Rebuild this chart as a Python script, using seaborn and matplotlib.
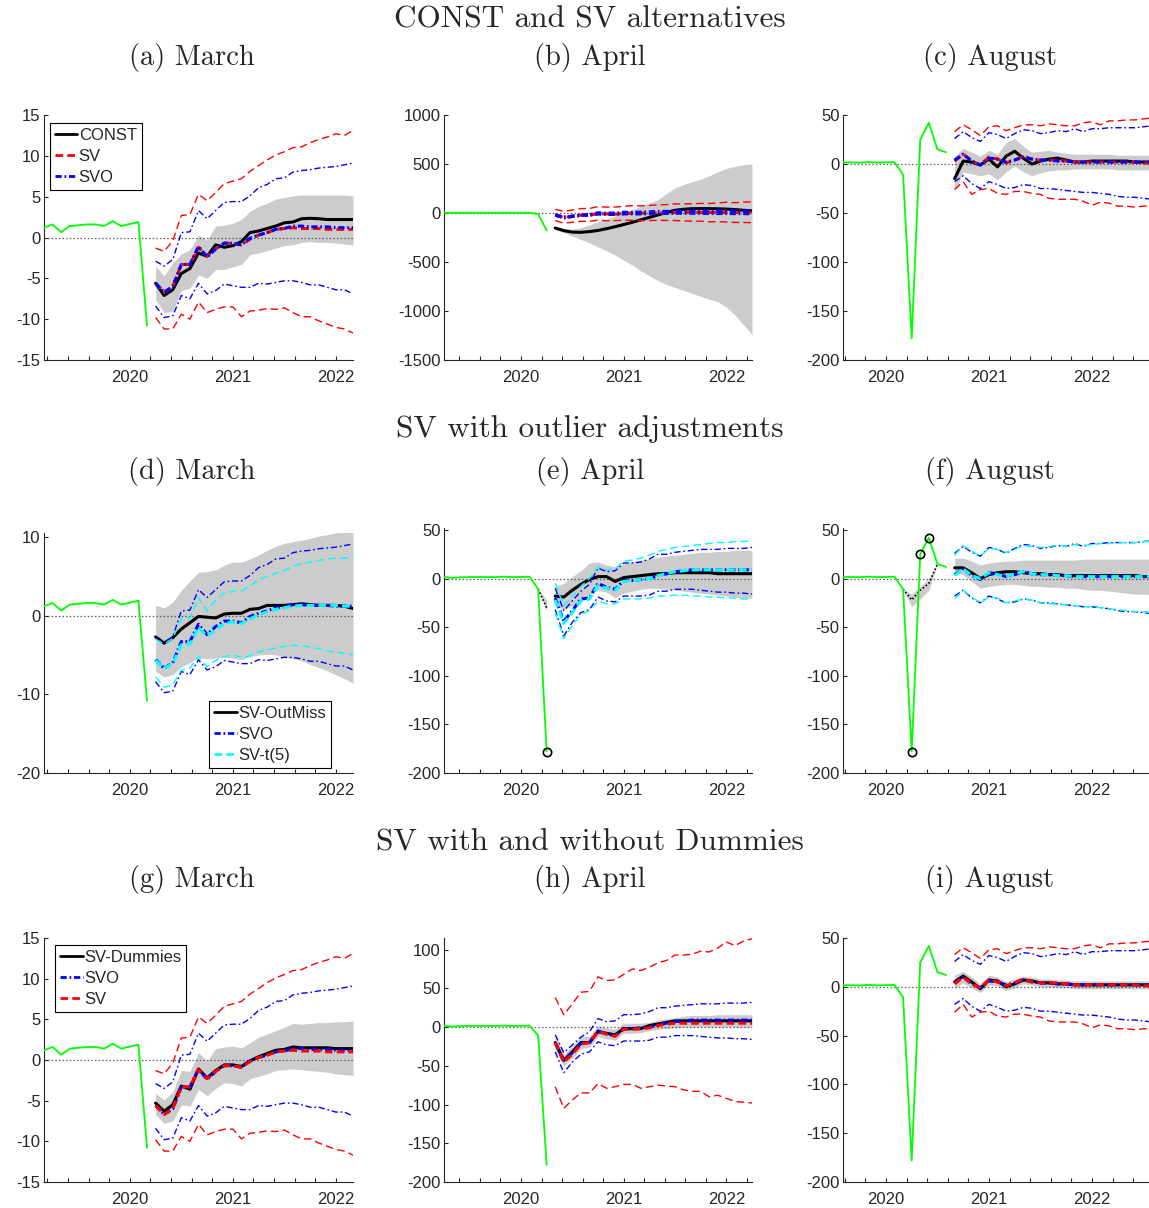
import matplotlib
matplotlib.use("Agg")
import matplotlib.pyplot as plt
import matplotlib.ticker as mticker
from matplotlib.lines import Line2D
import seaborn as sns

# --- data -----------------------------------------------------------------
# observed series, Mar 2019 .. Aug 2020 (monthly)
ACTUAL_START = (2019, 3)
ACTUAL = [1.2, 1.6, 0.65, 1.4, 1.5, 1.6, 1.6, 1.4, 2.0, 1.4, 1.65, 1.9,
          -10.8, -178, 25, 42, 15, 12]

# forecast vintages: last observed month
VINTAGES = {"March": (2020, 3), "April": (2020, 4), "August": (2020, 8)}

# --- March vintage, forecasts Apr 2020 .. Mar 2022
CONST_MAR_MED = [-5.6, -7.1, -6.4, -4.4, -3.8, -1.9, -2.3, -0.9, -1.2, -1.0, -0.5, 0.6,
                 0.8, 1.1, 1.4, 1.8, 1.9, 2.3, 2.35, 2.3, 2.2, 2.2, 2.2, 2.2]
CONST_MAR_LO = [-7.6, -9.2, -9.0, -6.5, -6.2, -4.6, -5.0, -3.9, -3.9, -3.6, -3.3, -2.1,
                -1.9, -1.6, -1.3, -1.0, -0.9, -0.6, -0.5, -0.6, -0.6, -0.7, -0.8, -0.9]
CONST_MAR_HI = [-3.5, -4.7, -3.1, -2.0, -1.5, 0.3, -0.3, 1.4, 1.5, 1.75, 2.2, 3.2,
                3.8, 4.2, 4.7, 4.9, 5.1, 5.2, 5.2, 5.2, 5.2, 5.2, 5.2, 5.1]
SV_MAR_MED = [-5.6, -6.7, -6.0, -3.3, -3.3, -1.2, -2.3, -1.4, -0.7, -0.7, -0.9, -0.2,
              0.3, 0.6, 1.0, 1.1, 1.2, 1.1, 1.1, 1.1, 1.0, 1.0, 1.0, 1.0]
SV_MAR_LO = [-9.8, -11.2, -11.2, -9.4, -10.0, -7.9, -9.2, -8.8, -8.5, -8.5, -9.7, -9.0,
             -8.9, -8.7, -8.8, -8.6, -9.2, -9.7, -9.7, -10.2, -10.6, -11.0, -11.2, -11.7]
SV_MAR_HI = [-1.3, -1.7, -0.4, 2.7, 2.8, 5.3, 4.5, 5.5, 6.6, 6.9, 7.2, 8.1,
             8.8, 9.5, 10.1, 10.5, 11.0, 11.1, 11.6, 12.0, 12.3, 12.7, 12.5, 13.1]
SVO_MAR_MED = [-5.6, -6.7, -6.0, -3.3, -3.3, -1.1, -2.4, -1.4, -0.7, -0.7, -0.9, -0.1,
               0.3, 0.6, 1.0, 1.1, 1.4, 1.4, 1.3, 1.3, 1.3, 1.2, 1.2, 1.2]
SVO_MAR_LO = [-8.4, -9.8, -9.6, -7.1, -7.5, -5.6, -6.9, -6.5, -5.7, -5.9, -6.1, -6.1,
              -5.6, -5.7, -5.5, -5.3, -5.3, -5.5, -5.8, -5.8, -6.1, -6.4, -6.4, -6.9]
SVO_MAR_HI = [-2.9, -3.5, -2.7, 0.6, 0.7, 3.3, 2.3, 3.3, 4.3, 4.4, 4.4, 5.1,
              6.1, 6.5, 7.2, 7.3, 8.0, 8.2, 8.3, 8.5, 8.6, 8.7, 8.9, 9.1]
OUTMISS_MAR_MED = [-2.7, -3.5, -2.8, -1.7, -0.9, -0.1, -0.2, -0.3, 0.2, 0.3, 0.3, 0.8,
                   0.9, 1.3, 1.3, 1.3, 1.4, 1.5, 1.4, 1.3, 1.3, 1.3, 1.2, 0.9]
OUTMISS_MAR_LO = [-7.1, -7.8, -7.5, -6.5, -6.0, -5.3, -5.5, -5.4, -5.3, -5.4, -5.6, -5.2,
                  -5.0, -4.9, -5.0, -5.3, -5.5, -5.7, -6.2, -6.6, -7.0, -7.5, -8.0, -8.6]
OUTMISS_MAR_HI = [1.3, 1.0, 1.7, 3.2, 4.4, 5.5, 5.6, 5.8, 6.4, 6.8, 6.8, 7.2,
                  7.7, 8.3, 8.8, 9.2, 9.4, 9.6, 9.8, 10.1, 10.3, 10.5, 10.8, 11.0]
T5_MAR_MED = [-5.7, -6.7, -6.1, -3.7, -3.6, -1.5, -2.6, -1.8, -1.0, -0.8, -1.0, -0.4,
              0.1, 0.5, 0.8, 1.0, 1.2, 1.3, 1.3, 1.3, 1.3, 1.3, 1.2, 1.2]
T5_MAR_LO = [-7.8, -9.1, -8.8, -6.9, -6.7, -5.2, -6.5, -5.7, -5.2, -5.0, -5.3, -5.1,
             -4.6, -4.4, -4.1, -3.9, -3.8, -3.8, -4.0, -4.2, -4.5, -4.6, -4.8, -5.0]
T5_MAR_HI = [-3.0, -3.6, -2.9, -0.4, -0.3, 2.3, 0.6, 2.0, 2.9, 3.1, 3.1, 3.8,
             4.5, 5.0, 5.4, 5.7, 6.3, 6.6, 6.8, 7.0, 7.2, 7.3, 7.3, 7.4]
DUMMY_MAR_MED = [-5.3, -6.3, -5.5, -3.2, -3.6, -1.1, -2.2, -1.3, -0.6, -0.6, -0.8, -0.1,
                 0.4, 0.8, 1.2, 1.3, 1.6, 1.5, 1.5, 1.5, 1.5, 1.4, 1.4, 1.4]
DUMMY_MAR_LO = [-6.7, -7.8, -7.5, -5.5, -5.7, -3.6, -4.4, -3.5, -2.8, -2.9, -3.2, -2.3,
                -2.0, -1.7, -1.3, -1.2, -1.1, -1.2, -1.3, -1.4, -1.5, -1.7, -1.8, -1.9]
DUMMY_MAR_HI = [-4.1, -4.9, -3.9, -1.3, -1.4, 0.9, -0.1, 1.4, 1.6, 1.7, 1.5, 2.1,
                2.8, 3.2, 3.6, 4.0, 4.5, 4.4, 4.5, 4.6, 4.6, 4.7, 4.7, 4.8]

# --- April vintage, forecasts May 2020 .. Apr 2022
CONST_APR_MED = [-153, -180, -195, -197, -190, -178, -160, -140, -118, -95, -70, -45,
                 -20, 5, 28, 38, 44, 45, 45, 43, 40, 35, 28, 22]
CONST_APR_LO = [-170, -200, -235, -270, -305, -345, -385, -430, -480, -530, -590, -640,
                -690, -730, -760, -790, -820, -850, -880, -905, -960, -1040, -1140, -1240]
CONST_APR_HI = [-140, -160, -165, -150, -120, -90, -60, -30, 0, 34, 70, 100,
                136, 200, 255, 290, 320, 345, 380, 420, 455, 475, 492, 500]
SV_APR_MED = [-20, -45, -35, -22, -20, -6, -9, -12, -3, -3, -2, -1,
              2, 4, 5, 5, 5, 5, 5, 5, 5, 5, 5, 5]
SV_APR_LO = [-77, -105, -94, -85, -85, -73, -79, -77, -74, -74, -79, -77,
             -75, -76, -77, -81, -83, -83, -90, -88, -92, -96, -97, -98]
SV_APR_HI = [38, 16, 30, 45, 46, 65, 60, 61, 68, 75, 73, 77,
             83, 86, 93, 93, 94, 98, 97, 102, 110, 105, 111, 114]
SVO_APR_MED = [-20, -44, -33, -21, -20, -5, -9, -11, -2, -2, -1, 0,
               3, 5, 7, 8, 9, 9, 9, 9, 9, 9, 9, 9]
SVO_APR_LO = [-32, -59, -45, -35, -32, -19, -23, -24, -18, -18, -18, -17,
              -13, -13, -11, -11, -11, -12, -13, -14, -14, -15, -15, -16]
SVO_APR_HI = [-10, -33, -23, -13, -6, 11, 7, 8, 16, 16, 17, 20,
              25, 25, 27, 28, 29, 30, 30, 30, 31, 31, 31, 32]
OUTMISS_APR_MED = [-18, -19, -12, -6, -1, 2, 2, -3, 1, 2, 3, 4,
                   5, 5, 6, 6, 6, 6, 6, 5, 5, 5, 5, 5]
OUTMISS_APR_LO = [-27, -32, -28, -22, -16, -12, -14, -20, -15, -13, -11, -10,
                  -10, -11, -12, -13, -14, -15, -16, -17, -18, -19, -20, -20]
OUTMISS_APR_HI = [-8, -5, 2, 8, 16, 17, 14, 12, 15, 17, 19, 20,
                  22, 23, 24, 25, 26, 27, 27, 28, 28, 29, 29, 29]
T5_APR_MED = [-22, -46, -35, -23, -21, -7, -10, -12, -3, -2, -1, 0,
              3, 5, 7, 8, 9, 9, 9, 9, 9, 9, 9, 9]
T5_APR_LO = [-35, -62, -48, -37, -33, -23, -26, -26, -21, -21, -21, -20,
             -18, -18, -17, -17, -18, -18, -19, -19, -20, -20, -21, -21]
T5_APR_HI = [-5, -28, -18, -8, 0, 12, 9, 10, 18, 19, 21, 24,
             28, 30, 32, 33, 34, 35, 36, 37, 37, 38, 38, 39]
DUMMY_APR_MED = [-20, -43, -32, -20, -20, -6, -8, -10, -2, -2, -2, 2,
                 4, 6, 8, 8, 8, 8, 8, 8, 8, 8, 8, 8]
DUMMY_APR_LO = [-30, -50, -40, -28, -26, -12, -15, -17, -8, -8, -7, -5,
                -3, -2, -1, 0, 0, 0, 0, 0, 0, 0, 0, 0]
DUMMY_APR_HI = [-10, -35, -24, -12, -12, 2, -1, -3, 5, 5, 5, 6,
                9, 11, 12, 14, 15, 15, 15, 16, 16, 16, 16, 16]

# --- August vintage, forecasts Sep 2020 .. Aug 2022
CONST_AUG_MED = [-15, 3, 2, -1, 5, -3, 8, 13, 6, 0, 3, 5,
                 6, 4, 2, 2, 3, 3, 3, 3, 3, 2, 2, 2]
CONST_AUG_LO = [-28, -8, -10, -12, -10, -16, -8, -2, -8, -12, -9, -7,
                -6, -6, -5, -5, -5, -5, -5, -6, -6, -6, -6, -6]
CONST_AUG_HI = [8, 16, 12, 8, 14, 10, 22, 26, 18, 12, 13, 14,
                12, 11, 10, 10, 10, 10, 10, 9, 9, 9, 9, 9]
SV_AUG_MED = [3, 10, 3, -1, 7, 5, 1, 4, 8, 5, 4, 4,
              4, 3, 2, 2, 2, 2, 2, 2, 2, 2, 1, 1]
SV_AUG_LO = [-26, -18, -31, -26, -25, -30, -31, -28, -28, -30, -31, -35,
             -36, -36, -36, -38, -42, -39, -40, -43, -43, -44, -43, -43]
SV_AUG_HI = [33, 40, 35, 29, 38, 39, 34, 37, 40, 40, 39, 41,
             40, 39, 39, 42, 43, 40, 44, 44, 45, 45, 46, 47]
SVO_AUG_MED = [4, 10, 3, -1, 6, 5, 2, 4, 7, 5, 4, 4,
               3, 3, 2, 2, 2, 2, 2, 2, 2, 2, 2, 2]
SVO_AUG_LO = [-18, -12, -20, -25, -18, -21, -25, -24, -21, -22, -25, -25,
              -26, -27, -28, -29, -29, -30, -31, -33, -34, -34, -35, -36]
SVO_AUG_HI = [26, 33, 27, 23, 32, 30, 26, 31, 35, 34, 31, 32,
              34, 33, 36, 33, 36, 36, 37, 37, 37, 37, 38, 39]
OUTMISS_AUG_MED = [11, 11, 6, 0, 4, 6, 7, 7, 6, 5, 5, 4,
                   4, 3, 3, 3, 3, 3, 3, 3, 3, 3, 2, 2]
OUTMISS_AUG_LO = [7, 4, -3, -10, -8, -7, -6, -6, -7, -8, -8, -9,
                  -9, -10, -10, -11, -12, -12, -13, -14, -15, -16, -16, -17]
OUTMISS_AUG_HI = [21, 21, 18, 14, 16, 17, 18, 18, 19, 19, 19, 19,
                  19, 19, 19, 20, 20, 20, 20, 20, 20, 20, 20, 20]
T5_AUG_MED = [3, 10, 3, 0, 6, 4, 2, 5, 7, 5, 4, 4,
              3, 3, 2, 2, 2, 2, 2, 2, 2, 2, 2, 2]
T5_AUG_LO = [-21, -12, -19, -25, -19, -20, -25, -23, -21, -22, -25, -26,
             -26, -27, -28, -29, -29, -30, -31, -32, -33, -34, -34, -35]
T5_AUG_HI = [24, 34, 28, 23, 31, 30, 27, 30, 34, 33, 32, 33,
             34, 33, 35, 34, 35, 36, 36, 37, 37, 37, 38, 38]
DUMMY_AUG_MED = [5, 11, 5, -2, 7, 6, 0, 3, 7, 6, 4, 4,
                 3, 3, 2, 2, 2, 2, 2, 2, 2, 2, 2, 2]
DUMMY_AUG_LO = [-2, 4, -1, -6, 2, 1, -4, -1, 3, 2, 0, 0,
                -1, -1, -2, -2, -2, -2, -2, -2, -2, -2, -2, -2]
DUMMY_AUG_HI = [12, 16, 10, 3, 12, 10, 5, 8, 11, 10, 8, 8,
                7, 7, 6, 6, 6, 6, 6, 6, 6, 6, 6, 6]

# outlier-adjusted observations (SV-OutMiss), starting Mar 2020
ADJ_APR = [-10.8, -30]
ADJ_APR_LO = [-10.8, -34]
ADJ_APR_HI = [-10.8, -22]
ADJ_AUG = [-10.8, -22, -12, -5, 15]
ADJ_AUG_LO = [-10.8, -29, -21, -12, 15]
ADJ_AUG_HI = [-10.8, -16, -8, 0, 15]
OUTLIERS = {"April": [(2020, 4)], "August": [(2020, 4), (2020, 5), (2020, 6)]}

FC = {
    ("CONST", "March"): (CONST_MAR_MED, CONST_MAR_LO, CONST_MAR_HI),
    ("CONST", "April"): (CONST_APR_MED, CONST_APR_LO, CONST_APR_HI),
    ("CONST", "August"): (CONST_AUG_MED, CONST_AUG_LO, CONST_AUG_HI),
    ("SV", "March"): (SV_MAR_MED, SV_MAR_LO, SV_MAR_HI),
    ("SV", "April"): (SV_APR_MED, SV_APR_LO, SV_APR_HI),
    ("SV", "August"): (SV_AUG_MED, SV_AUG_LO, SV_AUG_HI),
    ("SVO", "March"): (SVO_MAR_MED, SVO_MAR_LO, SVO_MAR_HI),
    ("SVO", "April"): (SVO_APR_MED, SVO_APR_LO, SVO_APR_HI),
    ("SVO", "August"): (SVO_AUG_MED, SVO_AUG_LO, SVO_AUG_HI),
    ("SV-OutMiss", "March"): (OUTMISS_MAR_MED, OUTMISS_MAR_LO, OUTMISS_MAR_HI),
    ("SV-OutMiss", "April"): (OUTMISS_APR_MED, OUTMISS_APR_LO, OUTMISS_APR_HI),
    ("SV-OutMiss", "August"): (OUTMISS_AUG_MED, OUTMISS_AUG_LO, OUTMISS_AUG_HI),
    ("SV-t(5)", "March"): (T5_MAR_MED, T5_MAR_LO, T5_MAR_HI),
    ("SV-t(5)", "April"): (T5_APR_MED, T5_APR_LO, T5_APR_HI),
    ("SV-t(5)", "August"): (T5_AUG_MED, T5_AUG_LO, T5_AUG_HI),
    ("SV-Dummies", "March"): (DUMMY_MAR_MED, DUMMY_MAR_LO, DUMMY_MAR_HI),
    ("SV-Dummies", "April"): (DUMMY_APR_MED, DUMMY_APR_LO, DUMMY_APR_HI),
    ("SV-Dummies", "August"): (DUMMY_AUG_MED, DUMMY_AUG_LO, DUMMY_AUG_HI),
}

# --- styles -----------------------------------------------------------------
DASH = (0, (5.5, 3.0))
DASHDOT = (0, (4.5, 2.0, 1.2, 2.0))
STYLE = {
    "CONST": dict(color="black", ls="-"),
    "SV-OutMiss": dict(color="black", ls="-"),
    "SV-Dummies": dict(color="black", ls="-"),
    "SV": dict(color="#ff0000", ls=DASH),
    "SVO": dict(color="#0000ff", ls=DASHDOT),
    "SV-t(5)": dict(color="#00ffff", ls=DASH),
}
BAND_COLOR = "#cccccc"

SECTIONS = [
    ("CONST and SV alternatives", ["CONST", "SV", "SVO"], ["(a)", "(b)", "(c)"]),
    ("SV with outlier adjustments", ["SV-OutMiss", "SVO", "SV-t(5)"], ["(d)", "(e)", "(f)"]),
    ("SV with and without Dummies", ["SV-Dummies", "SVO", "SV"], ["(g)", "(h)", "(i)"]),
]
YLIMS = [[(-15, 15), (-1500, 1000), (-200, 50)],
         [(-20, 10.5), (-200, 52), (-200, 52)],
         [(-15, 15), (-200, 115), (-200, 50)]]
YTICKS = [[5, 500, 50], [10, 50, 50], [5, 50, 50]]

# pixel layout
W, H = 1149, 1208
COLS = [(44, 353), (444, 752), (843, 1152)]
ROW_TOPS = [[115, 115, 115], [533, 528, 528], [938, 938, 938]]
ROW_BOTTOMS = [360, 773, 1182]
SECTION_Y = [20, 429, 843]
SUB_Y = [58, 472, 880]
SUB_X = [192, 590, 990]
LEGEND_POS = {0: ("upper left", (0.019, 0.967)),
              1: ("lower right", (0.929, 0.021)),
              2: ("upper left", (0.036, 0.971))}


def mx(year, month):
    return year + (month - 1) / 12.0


def month_axis(start, n):
    y, m = start
    return [mx(y + (m - 1 + k) // 12, (m - 1 + k) % 12 + 1) for k in range(n)]


def shift(ym, k):
    y, m = ym
    t = y * 12 + (m - 1) + k
    return (t // 12, t % 12 + 1)


ACTUAL_X = month_axis(ACTUAL_START, len(ACTUAL))

sns.set_style("ticks")
plt.rcParams["font.family"] = ["Liberation Sans", "DejaVu Sans"]
plt.rcParams["axes.unicode_minus"] = False
plt.rcParams["lines.scale_dashes"] = False
AXC = "#262626"

fig = plt.figure(figsize=(W / 100, H / 100), dpi=100)

for r, (sec_title, models, letters) in enumerate(SECTIONS):
    fig.text(590 / W, 1 - SECTION_Y[r] / H, sec_title, ha="center", va="center",
             fontsize=22.5, family="cmr10")
    for c, vintage in enumerate(["March", "April", "August"]):
        x0, x1 = COLS[c]
        y0, y1 = ROW_TOPS[r][c], ROW_BOTTOMS[r]
        ax = fig.add_axes([x0 / W, 1 - y1 / H, (x1 - x0) / W, (y1 - y0) / H])
        fig.text(SUB_X[c] / W, 1 - SUB_Y[r] / H, f"{letters[c]} {vintage}",
                 ha="center", va="center", fontsize=20.5, family="cmr10")

        v = VINTAGES[vintage]
        fx = month_axis(shift(v, 1), 24)
        iv = ACTUAL_X.index(mx(*v))

        # shaded band of the first (benchmark) model
        med, lo, hi = FC[(models[0], vintage)]
        ax.fill_between(fx, lo, hi, color=BAND_COLOR, lw=0, zorder=1)

        # outlier adjusted observations
        if r == 1 and vintage in ("April", "August"):
            adj = ADJ_APR if vintage == "April" else ADJ_AUG
            alo = ADJ_APR_LO if vintage == "April" else ADJ_AUG_LO
            ahi = ADJ_APR_HI if vintage == "April" else ADJ_AUG_HI
            adj_x = month_axis((2020, 3), len(adj))
            ax.fill_between(adj_x, alo, ahi, color=BAND_COLOR, lw=0, zorder=1)
            ax.plot(adj_x, adj, color="black", ls=(0, (1.2, 1.5)), lw=1.2, zorder=3)

        ax.axhline(0, color="#555555", ls=(0, (1, 1.6)), lw=0.9, zorder=2)

        # observed data
        sns.lineplot(x=ACTUAL_X[iv - 12:iv + 1], y=ACTUAL[iv - 12:iv + 1], ax=ax,
                     color="#00ff00", linewidth=1.3, zorder=4)

        if r == 1 and vintage in OUTLIERS:
            ox = [mx(*ym) for ym in OUTLIERS[vintage]]
            oy = [ACTUAL[ACTUAL_X.index(x)] for x in ox]
            ax.plot(ox, oy, ls="none", marker="o", ms=6, mfc="none", mec="black",
                    mew=1.2, zorder=6)

        # forecast medians and bands
        for k, m in enumerate(models):
            med, lo, hi = FC[(m, vintage)]
            st = STYLE[m]
            if k > 0:
                for b in (lo, hi):
                    sns.lineplot(x=fx, y=b, ax=ax, color=st["color"], linestyle=st["ls"],
                                 linewidth=1.0, zorder=5)
            sns.lineplot(x=fx, y=med, ax=ax, color=st["color"], linestyle=st["ls"],
                         linewidth=2.2, zorder=5 + k)

        ax.set_xlim(mx(*shift(v, -12)), mx(*shift(v, 24)))
        ax.set_ylim(*YLIMS[r][c])
        ax.xaxis.set_major_locator(mticker.FixedLocator([2020, 2021, 2022]))
        ax.xaxis.set_minor_locator(mticker.MultipleLocator(0.2))
        ax.xaxis.set_major_formatter(mticker.FormatStrFormatter("%d"))
        ax.yaxis.set_major_locator(mticker.MultipleLocator(YTICKS[r][c]))
        ax.tick_params(direction="in", length=3, width=0.8, colors=AXC,
                       labelsize=12, which="both")
        ax.tick_params(axis="x", pad=7)
        ax.tick_params(axis="y", pad=2.5)
        for s in ("top", "right"):
            ax.spines[s].set_visible(False)
        for s in ("left", "bottom"):
            ax.spines[s].set_color(AXC)
            ax.spines[s].set_linewidth(0.8)
        ax.set_xlabel("")
        ax.set_ylabel("")

        if c == 0:
            handles = [Line2D([], [], color=STYLE[m]["color"], ls=STYLE[m]["ls"], lw=2.0)
                       for m in models]
            loc, anchor = LEGEND_POS[r]
            leg = ax.legend(handles, models, loc=loc, bbox_to_anchor=anchor,
                            borderaxespad=0, fontsize=12, handlelength=1.35,
                            handletextpad=0.08, borderpad=0.3, labelspacing=0.36,
                            fancybox=False, framealpha=1)
            leg.get_frame().set_edgecolor("black")
            leg.get_frame().set_linewidth(0.8)

fig.savefig("out.png", dpi=100)
